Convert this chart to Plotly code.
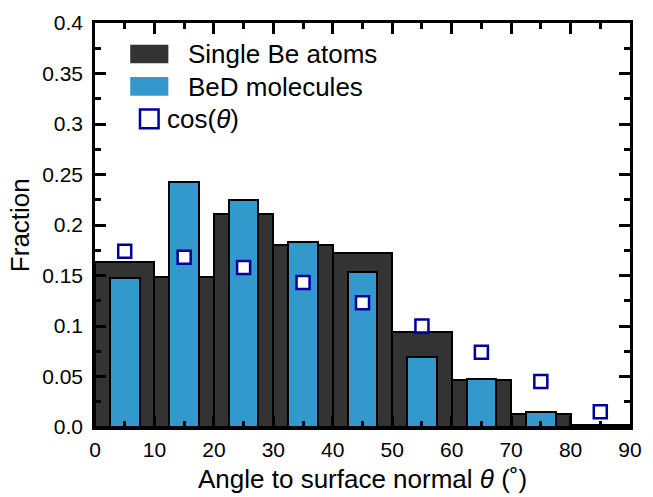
import plotly.graph_objects as go

# Data
atom_centers = [5, 15, 25, 35, 45, 55, 65, 75, 85]
atom_fraction = [0.163, 0.149, 0.211, 0.180, 0.172, 0.094, 0.047, 0.013, 0.002]
mol_centers = [5, 15, 25, 35, 45, 55, 65, 75, 85]
mol_fraction = [0.148, 0.243, 0.225, 0.183, 0.153, 0.069, 0.048, 0.015, 0.0]
cos_x = [5, 15, 25, 35, 45, 55, 65, 75, 85]
cos_y = [0.174, 0.168, 0.158, 0.143, 0.123, 0.100, 0.074, 0.045, 0.015]
y_ticks = [0, 0.05, 0.1, 0.15, 0.2, 0.25, 0.3, 0.35, 0.4]
y_ticktext = ["0.0", "0.05", "0.1", "0.15", "0.2", "0.25", "0.3", "0.35", "0.4"]
x_ticks = [0, 10, 20, 30, 40, 50, 60, 70, 80, 90]

DARK = "#333333"
BLUE = "#3399cc"
NAVY = "#000099"
FONT = "Liberation Sans, Arial, Helvetica, sans-serif"

fig = go.Figure()
fig.add_trace(go.Bar(x=atom_centers, y=atom_fraction, width=10,
                     marker=dict(color=DARK, line=dict(color="black", width=2)),
                     name="Single Be atoms", showlegend=False))
fig.add_trace(go.Bar(x=mol_centers, y=mol_fraction, width=5,
                     marker=dict(color=BLUE, line=dict(color="black", width=2)),
                     name="BeD molecules", showlegend=False))
fig.add_trace(go.Scatter(x=cos_x, y=cos_y, mode="markers",
                         marker=dict(symbol="square", size=13, color="white",
                                     line=dict(color=NAVY, width=2.5)),
                         name="cos(θ)", showlegend=False))

axis_common = dict(showline=True, linecolor="black", linewidth=2.5, mirror="allticks",
                   ticks="inside", ticklen=11, tickwidth=2.5, tickcolor="black",
                   showgrid=False, zeroline=False,
                   tickfont=dict(family=FONT, size=21, color="black"))

fig.update_xaxes(range=[0, 90], tickvals=x_ticks,
                 minor=dict(ticks="inside", dtick=5, ticklen=6, tickwidth=2.5, tickcolor="black"),
                 ticklabelstandoff=2,
                 **axis_common)
fig.update_yaxes(range=[0, 0.4], tickvals=y_ticks, ticktext=y_ticktext,
                 minor=dict(ticks="inside", dtick=0.025, ticklen=6, tickwidth=2.5, tickcolor="black"),
                 ticklabelstandoff=5,
                 **axis_common)

# Layout geometry
W, H = 653, 497
ml, mr, mt, mb = 95, 11, 16, 70
pw, ph = W - ml - mr, H - mt - mb

def px2paper(x, y):
    return (x - ml) / pw, 1 - (y - mt) / ph

# Manual legend (layout decoration)
shapes = []
for (y0, y1, col) in [(38, 57, DARK), (71, 90, BLUE)]:
    xa, ya = px2paper(131, y0)
    xb, yb = px2paper(170, y1)
    shapes.append(dict(type="rect", xref="paper", yref="paper", x0=xa, x1=xb, y0=yb, y1=ya,
                       fillcolor=col, line=dict(width=0)))
xa, ya = px2paper(141, 104)
xb, yb = px2paper(160, 123)
shapes.append(dict(type="rect", xref="paper", yref="paper", x0=xa, x1=xb, y0=yb, y1=ya,
                   fillcolor="white", line=dict(color=NAVY, width=2.5)))

annotations = []
for (text, x, y) in [("Single Be atoms", 188, 48), ("BeD molecules", 188, 81), ("cos(<i>θ</i>)", 167, 114)]:
    px, py = px2paper(x, y)
    annotations.append(dict(text=text, xref="paper", yref="paper", x=px, y=py,
                            xanchor="left", yanchor="middle", showarrow=False,
                            font=dict(family=FONT, size=26, color="black")))

# Axis titles
px, py = px2paper(368, 480)
annotations.append(dict(text="Angle to surface normal <i>θ</i> (˚)", xref="paper", yref="paper",
                        x=0.5, y=py, xanchor="center", yanchor="middle", showarrow=False,
                        font=dict(family=FONT, size=26, color="black")))
px, py = px2paper(19, 222)
annotations.append(dict(text="Fraction", xref="paper", yref="paper", textangle=-90,
                        x=px, y=py, xanchor="center", yanchor="middle", showarrow=False,
                        font=dict(family=FONT, size=26, color="black")))

fig.update_layout(width=W, height=H, barmode="overlay", bargap=0,
                  margin=dict(l=ml, r=mr, t=mt, b=mb),
                  plot_bgcolor="white", paper_bgcolor="white",
                  shapes=shapes, annotations=annotations, showlegend=False)

fig.write_html("out.html")
